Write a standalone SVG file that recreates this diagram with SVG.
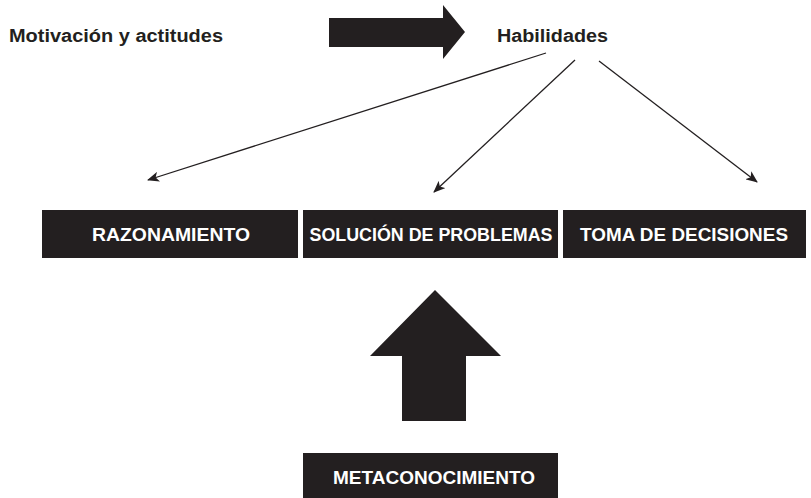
<svg xmlns="http://www.w3.org/2000/svg" width="811" height="498" viewBox="0 0 811 498">
<defs>
<style>
.lbl{font-family:"Liberation Sans",Arial,sans-serif;font-weight:bold;font-size:18px;fill:#231f20}
.box{fill:#231f20}
.bt{font-family:"Liberation Sans",Arial,sans-serif;font-weight:bold;font-size:18.5px;fill:#ffffff;text-anchor:middle}
.con{stroke:#231f20;stroke-width:1.3;fill:none}
.big{fill:#231f20}
</style>
<marker id="ah" viewBox="0 0 12 10" refX="11" refY="5" markerWidth="12" markerHeight="10" markerUnits="userSpaceOnUse" orient="auto">
<path d="M0,0 L12,5 L0,10 L3,5 Z" fill="#231f20"/>
</marker>
</defs>
<rect width="811" height="498" fill="#ffffff"/>
<g id="motivacion"><text class="lbl" x="9" y="42" textLength="214" lengthAdjust="spacingAndGlyphs">Motivación y actitudes</text></g>
<g id="habilidades"><text class="lbl" x="497" y="42" textLength="111" lengthAdjust="spacingAndGlyphs">Habilidades</text></g>
<g id="razonamiento"><rect class="box" x="42" y="210" width="256" height="48"/><text class="bt" x="171" y="240.5" textLength="158" lengthAdjust="spacingAndGlyphs">RAZONAMIENTO</text></g>
<g id="solucion"><rect class="box" x="303" y="210" width="255" height="48"/><text class="bt" x="431" y="240.5" textLength="243" lengthAdjust="spacingAndGlyphs">SOLUCIÓN DE PROBLEMAS</text></g>
<g id="toma"><rect class="box" x="563" y="210" width="243" height="48"/><text class="bt" x="684" y="240.5" textLength="208" lengthAdjust="spacingAndGlyphs">TOMA DE DECISIONES</text></g>
<g id="metaconocimiento"><rect class="box" x="303" y="453" width="255" height="45"/><text class="bt" x="434" y="484" textLength="202" lengthAdjust="spacingAndGlyphs">METACONOCIMIENTO</text></g>
<g id="connectors">
<path class="big" d="M329,18 L443,18 L443,5 L465,32 L443,59 L443,47 L329,47 Z"/>
<path class="big" d="M435,290 L501,356 L466,356 L466,421 L402,421 L402,356 L370,356 Z"/>
<line class="con" x1="546" y1="53" x2="148" y2="180" marker-end="url(#ah)"/>
<line class="con" x1="575" y1="60" x2="434" y2="192" marker-end="url(#ah)"/>
<line class="con" x1="599" y1="61" x2="757" y2="182" marker-end="url(#ah)"/>
</g>
</svg>
